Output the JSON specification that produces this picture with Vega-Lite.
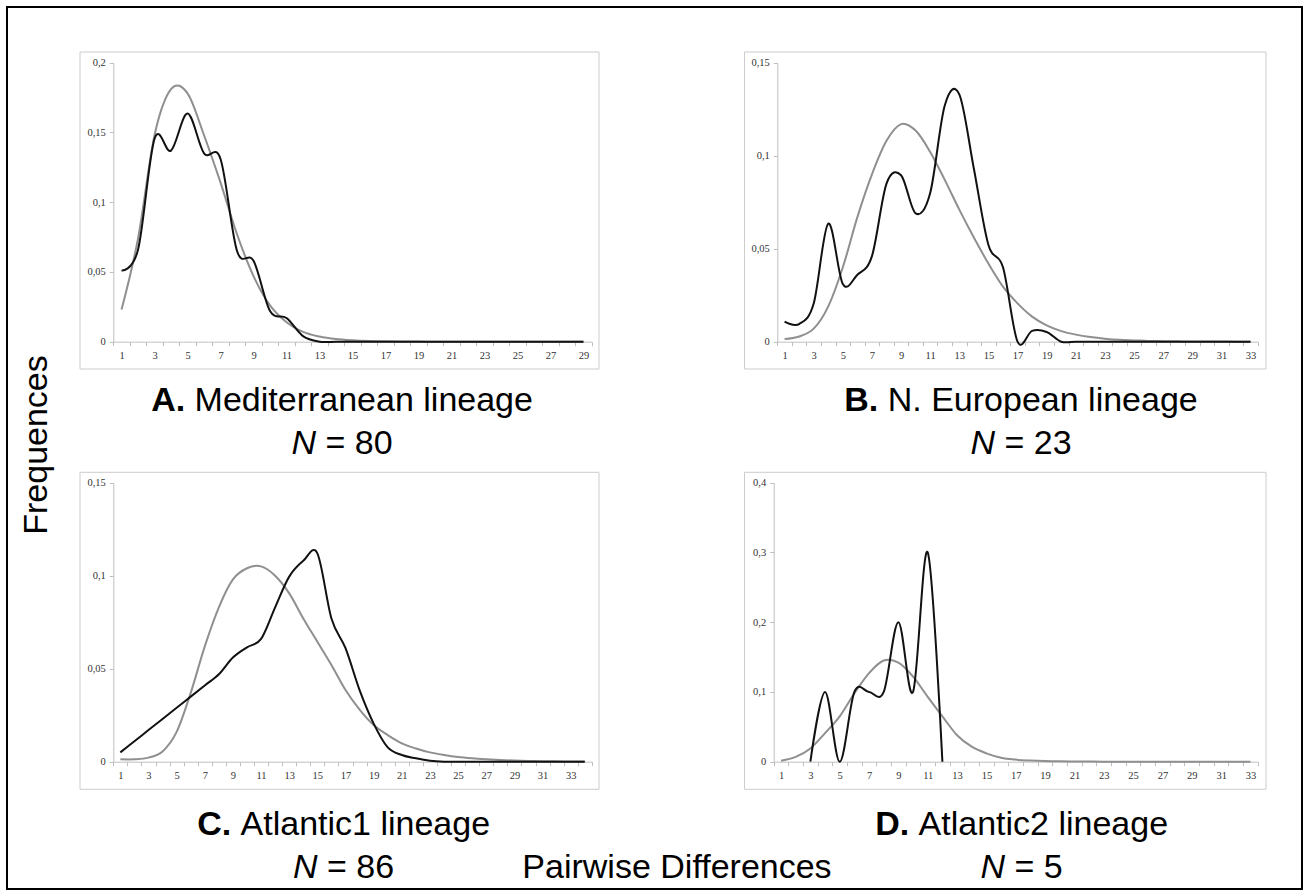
{
  "$schema": "https://vega.github.io/schema/vega-lite/v6.json",
  "width": 1295,
  "height": 882,
  "padding": 7,
  "autosize": {"type": "none"},
  "background": "white",
  "config": {
    "view": {"stroke": "#000000", "strokeWidth": 2},
    "axis": {"grid": false, "domainColor": "#bfbfbf", "tickColor": "#bfbfbf", "tickSize": 4, "labelFont": "Liberation Serif", "labelFontSize": 10.5, "labelColor": "#333333", "labelFlush": false, "labelOverlap": false, "labelPadding": 4, "labelAngle": 0}
  },
  "data": {"values": [
    {"p":"A","k":1,"obs":0.051,"exp":0.023},{"p":"A","k":2,"obs":0.066,"exp":0.074},{"p":"A","k":3,"obs":0.1455,"exp":0.148},{"p":"A","k":4,"obs":0.137,"exp":0.181},{"p":"A","k":5,"obs":0.1635,"exp":0.178},{"p":"A","k":6,"obs":0.135,"exp":0.148},{"p":"A","k":7,"obs":0.131,"exp":0.114},{"p":"A","k":8,"obs":0.065,"exp":0.077},{"p":"A","k":9,"obs":0.058,"exp":0.047},{"p":"A","k":10,"obs":0.022,"exp":0.026},{"p":"A","k":11,"obs":0.017,"exp":0.014},{"p":"A","k":12,"obs":0.004,"exp":0.007},{"p":"A","k":13,"obs":0,"exp":0.0037},{"p":"A","k":14,"obs":0,"exp":0.0019},{"p":"A","k":15,"obs":0,"exp":0.001},{"p":"A","k":16,"obs":0,"exp":0.0005},{"p":"A","k":17,"obs":0,"exp":0.0003},{"p":"A","k":18,"obs":0,"exp":0.00015},{"p":"A","k":19,"obs":0,"exp":0.0001},{"p":"A","k":20,"obs":0,"exp":0},{"p":"A","k":21,"obs":0,"exp":0},{"p":"A","k":22,"obs":0,"exp":0},{"p":"A","k":23,"obs":0,"exp":0},{"p":"A","k":24,"obs":0,"exp":0},{"p":"A","k":25,"obs":0,"exp":0},{"p":"A","k":26,"obs":0,"exp":0},{"p":"A","k":27,"obs":0,"exp":0},{"p":"A","k":28,"obs":0,"exp":0},{"p":"A","k":29,"obs":0,"exp":0},
    {"p":"B","k":1,"obs":0.0108,"exp":0.0014},{"p":"B","k":2,"obs":0.0095,"exp":0.0028},{"p":"B","k":3,"obs":0.0205,"exp":0.007},{"p":"B","k":4,"obs":0.0635,"exp":0.019},{"p":"B","k":5,"obs":0.031,"exp":0.04},{"p":"B","k":6,"obs":0.036,"exp":0.067},{"p":"B","k":7,"obs":0.046,"exp":0.09},{"p":"B","k":8,"obs":0.085,"exp":0.108},{"p":"B","k":9,"obs":0.0895,"exp":0.117},{"p":"B","k":10,"obs":0.069,"exp":0.1135},{"p":"B","k":11,"obs":0.08,"exp":0.102},{"p":"B","k":12,"obs":0.127,"exp":0.087},{"p":"B","k":13,"obs":0.133,"exp":0.071},{"p":"B","k":14,"obs":0.093,"exp":0.056},{"p":"B","k":15,"obs":0.052,"exp":0.042},{"p":"B","k":16,"obs":0.04,"exp":0.0296},{"p":"B","k":17,"obs":0,"exp":0.0206},{"p":"B","k":18,"obs":0.0058,"exp":0.0135},{"p":"B","k":19,"obs":0.0052,"exp":0.0088},{"p":"B","k":20,"obs":0,"exp":0.0057},{"p":"B","k":21,"obs":0,"exp":0.0038},{"p":"B","k":22,"obs":0,"exp":0.0025},{"p":"B","k":23,"obs":0,"exp":0.0016},{"p":"B","k":24,"obs":0,"exp":0.001},{"p":"B","k":25,"obs":0,"exp":0.0007},{"p":"B","k":26,"obs":0,"exp":0.0004},{"p":"B","k":27,"obs":0,"exp":0.0003},{"p":"B","k":28,"obs":0,"exp":0.0002},{"p":"B","k":29,"obs":0,"exp":0.0001},{"p":"B","k":30,"obs":0,"exp":0.0001},{"p":"B","k":31,"obs":0,"exp":0.0001},{"p":"B","k":32,"obs":0,"exp":0},{"p":"B","k":33,"obs":0,"exp":0},
    {"p":"C","k":1,"obs":0.005,"exp":0.0013},{"p":"C","k":2,"obs":0.011,"exp":0.0013},{"p":"C","k":3,"obs":0.017,"exp":0.0022},{"p":"C","k":4,"obs":0.023,"exp":0.0055},{"p":"C","k":5,"obs":0.029,"exp":0.016},{"p":"C","k":6,"obs":0.035,"exp":0.037},{"p":"C","k":7,"obs":0.041,"exp":0.062},{"p":"C","k":8,"obs":0.047,"exp":0.083},{"p":"C","k":9,"obs":0.056,"exp":0.098},{"p":"C","k":10,"obs":0.0615,"exp":0.104},{"p":"C","k":11,"obs":0.066,"exp":0.105},{"p":"C","k":12,"obs":0.083,"exp":0.1},{"p":"C","k":13,"obs":0.0995,"exp":0.0905},{"p":"C","k":14,"obs":0.108,"exp":0.077},{"p":"C","k":15,"obs":0.112,"exp":0.0645},{"p":"C","k":16,"obs":0.077,"exp":0.052},{"p":"C","k":17,"obs":0.061,"exp":0.0385},{"p":"C","k":18,"obs":0.0385,"exp":0.028},{"p":"C","k":19,"obs":0.0205,"exp":0.0197},{"p":"C","k":20,"obs":0.0077,"exp":0.0143},{"p":"C","k":21,"obs":0.0036,"exp":0.0099},{"p":"C","k":22,"obs":0.0018,"exp":0.0071},{"p":"C","k":23,"obs":0.0005,"exp":0.005},{"p":"C","k":24,"obs":0,"exp":0.0036},{"p":"C","k":25,"obs":0,"exp":0.0025},{"p":"C","k":26,"obs":0,"exp":0.0018},{"p":"C","k":27,"obs":0,"exp":0.0013},{"p":"C","k":28,"obs":0,"exp":0.0009},{"p":"C","k":29,"obs":0,"exp":0.0006},{"p":"C","k":30,"obs":0,"exp":0.0004},{"p":"C","k":31,"obs":0,"exp":0.0003},{"p":"C","k":32,"obs":0,"exp":0.0002},{"p":"C","k":33,"obs":0,"exp":0.0001},{"p":"C","k":34,"obs":0,"exp":0.0001},
    {"p":"D","k":1,"obs":null,"exp":0.0015},{"p":"D","k":2,"obs":null,"exp":0.007},{"p":"D","k":3,"obs":0,"exp":0.019},{"p":"D","k":4,"obs":0.1,"exp":0.041},{"p":"D","k":5,"obs":0,"exp":0.065},{"p":"D","k":6,"obs":0.1,"exp":0.098},{"p":"D","k":7,"obs":0.1,"exp":0.127},{"p":"D","k":8,"obs":0.1,"exp":0.145},{"p":"D","k":9,"obs":0.2,"exp":0.142},{"p":"D","k":10,"obs":0.1,"exp":0.122},{"p":"D","k":11,"obs":0.3,"exp":0.093},{"p":"D","k":12,"obs":0,"exp":0.065},{"p":"D","k":13,"obs":null,"exp":0.038},{"p":"D","k":14,"obs":null,"exp":0.0215},{"p":"D","k":15,"obs":null,"exp":0.012},{"p":"D","k":16,"obs":null,"exp":0.0057},{"p":"D","k":17,"obs":null,"exp":0.003},{"p":"D","k":18,"obs":null,"exp":0.0017},{"p":"D","k":19,"obs":null,"exp":0.0009},{"p":"D","k":20,"obs":null,"exp":0.0005},{"p":"D","k":21,"obs":null,"exp":0.0003},{"p":"D","k":22,"obs":null,"exp":0.0002},{"p":"D","k":23,"obs":null,"exp":0.0001},{"p":"D","k":24,"obs":null,"exp":0.0001},{"p":"D","k":25,"obs":null,"exp":0.0001},{"p":"D","k":26,"obs":null,"exp":0},{"p":"D","k":27,"obs":null,"exp":0},{"p":"D","k":28,"obs":null,"exp":0},{"p":"D","k":29,"obs":null,"exp":0},{"p":"D","k":30,"obs":null,"exp":0},{"p":"D","k":31,"obs":null,"exp":0},{"p":"D","k":32,"obs":null,"exp":0},{"p":"D","k":33,"obs":null,"exp":0}
  ]},
  "resolve": {"scale": {"x": "independent", "y": "independent"}, "axis": {"x": "independent", "y": "independent"}},
  "layer": [
    {"data": {"values": [{"f": "A"}]}, "mark": {"type": "rect", "filled": false, "stroke": "#cccccc", "strokeWidth": 1},
     "encoding": {"x": {"datum": -1.5186, "type": "quantitative", "scale": {"domain": [0.5, 29.5], "range": [106.3, 584.7], "nice": false, "zero": false}, "axis": null}, "x2": {"datum": 29.942},
                  "y": {"datum": 0.20767, "type": "quantitative", "scale": {"domain": [0, 0.2], "range": [334.7, 55.7], "nice": false, "zero": false}, "axis": null}, "y2": {"datum": -0.01957}}},
    {"data": {"values": [{"f": "B"}]}, "mark": {"type": "rect", "filled": false, "stroke": "#cccccc", "strokeWidth": 1},
     "encoding": {"x": {"datum": -1.7526, "type": "quantitative", "scale": {"domain": [0.5, 33.5], "range": [770.3, 1250.8], "nice": false, "zero": false}, "axis": null}, "x2": {"datum": 34.062},
                  "y": {"datum": 0.15575, "type": "quantitative", "scale": {"domain": [0, 0.15], "range": [334.7, 55.7], "nice": false, "zero": false}, "axis": null}, "y2": {"datum": -0.014677}}},
    {"data": {"values": [{"f": "C"}]}, "mark": {"type": "rect", "filled": false, "stroke": "#cccccc", "strokeWidth": 1},
     "encoding": {"x": {"datum": -1.866, "type": "quantitative", "scale": {"domain": [0.5, 34.5], "range": [106.3, 584.8], "nice": false, "zero": false}, "axis": null}, "x2": {"datum": 35.011},
                  "y": {"datum": 0.15559, "type": "quantitative", "scale": {"domain": [0, 0.15], "range": [754.7, 475.7], "nice": false, "zero": false}, "axis": null}, "y2": {"datum": -0.014839}}},
    {"data": {"values": [{"f": "D"}]}, "mark": {"type": "rect", "filled": false, "stroke": "#cccccc", "strokeWidth": 1},
     "encoding": {"x": {"datum": -1.4905, "type": "quantitative", "scale": {"domain": [0.5, 33.5], "range": [766.7, 1250.8], "nice": false, "zero": false}, "axis": null}, "x2": {"datum": 34.059},
                  "y": {"datum": 0.41491, "type": "quantitative", "scale": {"domain": [0, 0.4], "range": [754.7, 475.7], "nice": false, "zero": false}, "axis": null}, "y2": {"datum": -0.03957}}},

    {"transform": [{"filter": {"field": "p", "equal": "A"}}], "mark": {"type": "line", "interpolate": "cardinal", "color": "#8f8f8f", "strokeWidth": 2},
     "encoding": {"x": {"field": "k", "type": "quantitative", "scale": {"domain": [0.5, 29.5], "range": [106.3, 584.7], "nice": false, "zero": false},
                        "axis": {"orient": "bottom", "offset": -547.3, "title": null, "values": [0.5,1.5,2.5,3.5,4.5,5.5,6.5,7.5,8.5,9.5,10.5,11.5,12.5,13.5,14.5,15.5,16.5,17.5,18.5,19.5,20.5,21.5,22.5,23.5,24.5,25.5,26.5,27.5,28.5,29.5], "labelExpr": "(datum.value + 0.5) % 2 == 1 ? '' + (datum.value + 0.5) : ''", "labelOffset": 8.25, "labelPadding": 5}},
                  "y": {"field": "exp", "type": "quantitative", "scale": {"domain": [0, 0.2], "range": [334.7, 55.7], "nice": false, "zero": false},
                        "axis": {"orient": "left", "offset": -106.3, "title": null, "values": [0, 0.05, 0.1, 0.15, 0.2], "labelExpr": "replace(toString(datum.value), '.', ',')"}}}},
    {"transform": [{"filter": {"field": "p", "equal": "A"}}], "mark": {"type": "line", "interpolate": "cardinal", "color": "#111111", "strokeWidth": 2},
     "encoding": {"x": {"field": "k", "type": "quantitative", "scale": {"domain": [0.5, 29.5], "range": [106.3, 584.7], "nice": false, "zero": false}, "axis": null},
                  "y": {"field": "obs", "type": "quantitative", "scale": {"domain": [0, 0.2], "range": [334.7, 55.7], "nice": false, "zero": false}, "axis": null}}},

    {"transform": [{"filter": {"field": "p", "equal": "B"}}], "mark": {"type": "line", "interpolate": "cardinal", "color": "#8f8f8f", "strokeWidth": 2},
     "encoding": {"x": {"field": "k", "type": "quantitative", "scale": {"domain": [0.5, 33.5], "range": [770.3, 1250.8], "nice": false, "zero": false},
                        "axis": {"orient": "bottom", "offset": -547.3, "title": null, "values": [0.5,1.5,2.5,3.5,4.5,5.5,6.5,7.5,8.5,9.5,10.5,11.5,12.5,13.5,14.5,15.5,16.5,17.5,18.5,19.5,20.5,21.5,22.5,23.5,24.5,25.5,26.5,27.5,28.5,29.5,30.5,31.5,32.5,33.5], "labelExpr": "(datum.value + 0.5) % 2 == 1 ? '' + (datum.value + 0.5) : ''", "labelOffset": 7.28, "labelPadding": 5}},
                  "y": {"field": "exp", "type": "quantitative", "scale": {"domain": [0, 0.15], "range": [334.7, 55.7], "nice": false, "zero": false},
                        "axis": {"orient": "left", "offset": -770.3, "title": null, "values": [0, 0.05, 0.1, 0.15], "labelExpr": "replace(toString(datum.value), '.', ',')"}}}},
    {"transform": [{"filter": {"field": "p", "equal": "B"}}], "mark": {"type": "line", "interpolate": "cardinal", "color": "#111111", "strokeWidth": 2},
     "encoding": {"x": {"field": "k", "type": "quantitative", "scale": {"domain": [0.5, 33.5], "range": [770.3, 1250.8], "nice": false, "zero": false}, "axis": null},
                  "y": {"field": "obs", "type": "quantitative", "scale": {"domain": [0, 0.15], "range": [334.7, 55.7], "nice": false, "zero": false}, "axis": null}}},

    {"transform": [{"filter": {"field": "p", "equal": "C"}}], "mark": {"type": "line", "interpolate": "cardinal", "color": "#8f8f8f", "strokeWidth": 2},
     "encoding": {"x": {"field": "k", "type": "quantitative", "scale": {"domain": [0.5, 34.5], "range": [106.3, 584.8], "nice": false, "zero": false},
                        "axis": {"orient": "bottom", "offset": -127.3, "title": null, "values": [0.5,1.5,2.5,3.5,4.5,5.5,6.5,7.5,8.5,9.5,10.5,11.5,12.5,13.5,14.5,15.5,16.5,17.5,18.5,19.5,20.5,21.5,22.5,23.5,24.5,25.5,26.5,27.5,28.5,29.5,30.5,31.5,32.5,33.5,34.5], "labelExpr": "(datum.value + 0.5) % 2 == 1 && datum.value < 34 ? '' + (datum.value + 0.5) : ''", "labelOffset": 7.04, "labelPadding": 5}},
                  "y": {"field": "exp", "type": "quantitative", "scale": {"domain": [0, 0.15], "range": [754.7, 475.7], "nice": false, "zero": false},
                        "axis": {"orient": "left", "offset": -106.3, "title": null, "values": [0, 0.05, 0.1, 0.15], "labelExpr": "replace(toString(datum.value), '.', ',')"}}}},
    {"transform": [{"filter": {"field": "p", "equal": "C"}}], "mark": {"type": "line", "interpolate": "cardinal", "color": "#111111", "strokeWidth": 2},
     "encoding": {"x": {"field": "k", "type": "quantitative", "scale": {"domain": [0.5, 34.5], "range": [106.3, 584.8], "nice": false, "zero": false}, "axis": null},
                  "y": {"field": "obs", "type": "quantitative", "scale": {"domain": [0, 0.15], "range": [754.7, 475.7], "nice": false, "zero": false}, "axis": null}}},

    {"transform": [{"filter": {"field": "p", "equal": "D"}}], "mark": {"type": "line", "interpolate": "cardinal", "color": "#8f8f8f", "strokeWidth": 2},
     "encoding": {"x": {"field": "k", "type": "quantitative", "scale": {"domain": [0.5, 33.5], "range": [766.7, 1250.8], "nice": false, "zero": false},
                        "axis": {"orient": "bottom", "offset": -127.3, "title": null, "values": [0.5,1.5,2.5,3.5,4.5,5.5,6.5,7.5,8.5,9.5,10.5,11.5,12.5,13.5,14.5,15.5,16.5,17.5,18.5,19.5,20.5,21.5,22.5,23.5,24.5,25.5,26.5,27.5,28.5,29.5,30.5,31.5,32.5,33.5], "labelExpr": "(datum.value + 0.5) % 2 == 1 ? '' + (datum.value + 0.5) : ''", "labelOffset": 7.335, "labelPadding": 5}},
                  "y": {"field": "exp", "type": "quantitative", "scale": {"domain": [0, 0.4], "range": [754.7, 475.7], "nice": false, "zero": false},
                        "axis": {"orient": "left", "offset": -766.7, "title": null, "values": [0, 0.1, 0.2, 0.3, 0.4], "labelExpr": "replace(toString(datum.value), '.', ',')"}}}},
    {"transform": [{"filter": {"field": "p", "equal": "D"}}], "mark": {"type": "line", "interpolate": "cardinal", "color": "#111111", "strokeWidth": 2},
     "encoding": {"x": {"field": "k", "type": "quantitative", "scale": {"domain": [0.5, 33.5], "range": [766.7, 1250.8], "nice": false, "zero": false}, "axis": null},
                  "y": {"field": "obs", "type": "quantitative", "scale": {"domain": [0, 0.4], "range": [754.7, 475.7], "nice": false, "zero": false}, "axis": null}}},

    {"data": {"values": [{"t": "A."}]}, "mark": {"type": "text", "font": "Liberation Sans", "fontSize": 34, "fontWeight": "bold", "align": "left", "baseline": "alphabetic", "dx": -190.85, "color": "#000000"},
     "encoding": {"x": {"datum": 14.363, "type": "quantitative", "scale": {"domain": [0.5, 29.5], "range": [106.3, 584.7], "nice": false, "zero": false}, "axis": null},
                  "y": {"datum": -0.04968, "type": "quantitative", "scale": {"domain": [0, 0.2], "range": [334.7, 55.7], "nice": false, "zero": false}, "axis": null}, "text": {"field": "t"}}},
    {"data": {"values": [{"t": "Mediterranean lineage"}]}, "mark": {"type": "text", "font": "Liberation Sans", "fontSize": 34, "align": "left", "baseline": "alphabetic", "dx": -147.4, "color": "#000000"},
     "encoding": {"x": {"datum": 14.363, "type": "quantitative", "scale": {"domain": [0.5, 29.5], "range": [106.3, 584.7], "nice": false, "zero": false}, "axis": null},
                  "y": {"datum": -0.04968, "type": "quantitative", "scale": {"domain": [0, 0.2], "range": [334.7, 55.7], "nice": false, "zero": false}, "axis": null}, "text": {"field": "t"}}},
    {"data": {"values": [{"t": "N"}]}, "mark": {"type": "text", "font": "Liberation Sans", "fontSize": 34, "fontStyle": "italic", "align": "left", "baseline": "alphabetic", "dx": -50.55, "color": "#000000"},
     "encoding": {"x": {"datum": 14.363, "type": "quantitative", "scale": {"domain": [0.5, 29.5], "range": [106.3, 584.7], "nice": false, "zero": false}, "axis": null},
                  "y": {"datum": -0.0805, "type": "quantitative", "scale": {"domain": [0, 0.2], "range": [334.7, 55.7], "nice": false, "zero": false}, "axis": null}, "text": {"field": "t"}}},
    {"data": {"values": [{"t": "= 80"}]}, "mark": {"type": "text", "font": "Liberation Sans", "fontSize": 34, "align": "left", "baseline": "alphabetic", "dx": -16.55, "color": "#000000"},
     "encoding": {"x": {"datum": 14.363, "type": "quantitative", "scale": {"domain": [0.5, 29.5], "range": [106.3, 584.7], "nice": false, "zero": false}, "axis": null},
                  "y": {"datum": -0.0805, "type": "quantitative", "scale": {"domain": [0, 0.2], "range": [334.7, 55.7], "nice": false, "zero": false}, "axis": null}, "text": {"field": "t"}}},

    {"data": {"values": [{"t": "B."}]}, "mark": {"type": "text", "font": "Liberation Sans", "fontSize": 34, "fontWeight": "bold", "align": "left", "baseline": "alphabetic", "dx": -176.7, "color": "#000000"},
     "encoding": {"x": {"datum": 17.237, "type": "quantitative", "scale": {"domain": [0.5, 33.5], "range": [770.3, 1250.8], "nice": false, "zero": false}, "axis": null},
                  "y": {"datum": -0.03726, "type": "quantitative", "scale": {"domain": [0, 0.15], "range": [334.7, 55.7], "nice": false, "zero": false}, "axis": null}, "text": {"field": "t"}}},
    {"data": {"values": [{"t": "N. European lineage"}]}, "mark": {"type": "text", "font": "Liberation Sans", "fontSize": 34, "align": "left", "baseline": "alphabetic", "dx": -133.25, "color": "#000000"},
     "encoding": {"x": {"datum": 17.237, "type": "quantitative", "scale": {"domain": [0.5, 33.5], "range": [770.3, 1250.8], "nice": false, "zero": false}, "axis": null},
                  "y": {"datum": -0.03726, "type": "quantitative", "scale": {"domain": [0, 0.15], "range": [334.7, 55.7], "nice": false, "zero": false}, "axis": null}, "text": {"field": "t"}}},
    {"data": {"values": [{"t": "N"}]}, "mark": {"type": "text", "font": "Liberation Sans", "fontSize": 34, "fontStyle": "italic", "align": "left", "baseline": "alphabetic", "dx": -50.55, "color": "#000000"},
     "encoding": {"x": {"datum": 17.237, "type": "quantitative", "scale": {"domain": [0.5, 33.5], "range": [770.3, 1250.8], "nice": false, "zero": false}, "axis": null},
                  "y": {"datum": -0.06038, "type": "quantitative", "scale": {"domain": [0, 0.15], "range": [334.7, 55.7], "nice": false, "zero": false}, "axis": null}, "text": {"field": "t"}}},
    {"data": {"values": [{"t": "= 23"}]}, "mark": {"type": "text", "font": "Liberation Sans", "fontSize": 34, "align": "left", "baseline": "alphabetic", "dx": -16.55, "color": "#000000"},
     "encoding": {"x": {"datum": 17.237, "type": "quantitative", "scale": {"domain": [0.5, 33.5], "range": [770.3, 1250.8], "nice": false, "zero": false}, "axis": null},
                  "y": {"datum": -0.06038, "type": "quantitative", "scale": {"domain": [0, 0.15], "range": [334.7, 55.7], "nice": false, "zero": false}, "axis": null}, "text": {"field": "t"}}},

    {"data": {"values": [{"t": "C."}]}, "mark": {"type": "text", "font": "Liberation Sans", "fontSize": 34, "fontWeight": "bold", "align": "left", "baseline": "alphabetic", "dx": -146.45, "color": "#000000"},
     "encoding": {"x": {"datum": 16.863, "type": "quantitative", "scale": {"domain": [0.5, 34.5], "range": [106.3, 584.8], "nice": false, "zero": false}, "axis": null},
                  "y": {"datum": -0.03941, "type": "quantitative", "scale": {"domain": [0, 0.15], "range": [754.7, 475.7], "nice": false, "zero": false}, "axis": null}, "text": {"field": "t"}}},
    {"data": {"values": [{"t": "Atlantic1 lineage"}]}, "mark": {"type": "text", "font": "Liberation Sans", "fontSize": 34, "align": "left", "baseline": "alphabetic", "dx": -103.0, "color": "#000000"},
     "encoding": {"x": {"datum": 16.863, "type": "quantitative", "scale": {"domain": [0.5, 34.5], "range": [106.3, 584.8], "nice": false, "zero": false}, "axis": null},
                  "y": {"datum": -0.03941, "type": "quantitative", "scale": {"domain": [0, 0.15], "range": [754.7, 475.7], "nice": false, "zero": false}, "axis": null}, "text": {"field": "t"}}},
    {"data": {"values": [{"t": "N"}]}, "mark": {"type": "text", "font": "Liberation Sans", "fontSize": 34, "fontStyle": "italic", "align": "left", "baseline": "alphabetic", "dx": -50.55, "color": "#000000"},
     "encoding": {"x": {"datum": 16.863, "type": "quantitative", "scale": {"domain": [0.5, 34.5], "range": [106.3, 584.8], "nice": false, "zero": false}, "axis": null},
                  "y": {"datum": -0.06253, "type": "quantitative", "scale": {"domain": [0, 0.15], "range": [754.7, 475.7], "nice": false, "zero": false}, "axis": null}, "text": {"field": "t"}}},
    {"data": {"values": [{"t": "= 86"}]}, "mark": {"type": "text", "font": "Liberation Sans", "fontSize": 34, "align": "left", "baseline": "alphabetic", "dx": -16.55, "color": "#000000"},
     "encoding": {"x": {"datum": 16.863, "type": "quantitative", "scale": {"domain": [0.5, 34.5], "range": [106.3, 584.8], "nice": false, "zero": false}, "axis": null},
                  "y": {"datum": -0.06253, "type": "quantitative", "scale": {"domain": [0, 0.15], "range": [754.7, 475.7], "nice": false, "zero": false}, "axis": null}, "text": {"field": "t"}}},

    {"data": {"values": [{"t": "D."}]}, "mark": {"type": "text", "font": "Liberation Sans", "fontSize": 34, "fontWeight": "bold", "align": "left", "baseline": "alphabetic", "dx": -146.45, "color": "#000000"},
     "encoding": {"x": {"datum": 17.398, "type": "quantitative", "scale": {"domain": [0.5, 33.5], "range": [766.7, 1250.8], "nice": false, "zero": false}, "axis": null},
                  "y": {"datum": -0.10509, "type": "quantitative", "scale": {"domain": [0, 0.4], "range": [754.7, 475.7], "nice": false, "zero": false}, "axis": null}, "text": {"field": "t"}}},
    {"data": {"values": [{"t": "Atlantic2 lineage"}]}, "mark": {"type": "text", "font": "Liberation Sans", "fontSize": 34, "align": "left", "baseline": "alphabetic", "dx": -103.0, "color": "#000000"},
     "encoding": {"x": {"datum": 17.398, "type": "quantitative", "scale": {"domain": [0.5, 33.5], "range": [766.7, 1250.8], "nice": false, "zero": false}, "axis": null},
                  "y": {"datum": -0.10509, "type": "quantitative", "scale": {"domain": [0, 0.4], "range": [754.7, 475.7], "nice": false, "zero": false}, "axis": null}, "text": {"field": "t"}}},
    {"data": {"values": [{"t": "N"}]}, "mark": {"type": "text", "font": "Liberation Sans", "fontSize": 34, "fontStyle": "italic", "align": "left", "baseline": "alphabetic", "dx": -41.1, "color": "#000000"},
     "encoding": {"x": {"datum": 17.398, "type": "quantitative", "scale": {"domain": [0.5, 33.5], "range": [766.7, 1250.8], "nice": false, "zero": false}, "axis": null},
                  "y": {"datum": -0.16674, "type": "quantitative", "scale": {"domain": [0, 0.4], "range": [754.7, 475.7], "nice": false, "zero": false}, "axis": null}, "text": {"field": "t"}}},
    {"data": {"values": [{"t": "= 5"}]}, "mark": {"type": "text", "font": "Liberation Sans", "fontSize": 34, "align": "left", "baseline": "alphabetic", "dx": -7.1, "color": "#000000"},
     "encoding": {"x": {"datum": 17.398, "type": "quantitative", "scale": {"domain": [0.5, 33.5], "range": [766.7, 1250.8], "nice": false, "zero": false}, "axis": null},
                  "y": {"datum": -0.16674, "type": "quantitative", "scale": {"domain": [0, 0.4], "range": [754.7, 475.7], "nice": false, "zero": false}, "axis": null}, "text": {"field": "t"}}},

    {"data": {"values": [{"t": "Pairwise Differences"}]}, "mark": {"type": "text", "font": "Liberation Sans", "fontSize": 34, "align": "center", "baseline": "alphabetic", "color": "#000000"},
     "encoding": {"x": {"datum": 40.553, "type": "quantitative", "scale": {"domain": [0.5, 34.5], "range": [106.3, 584.8], "nice": false, "zero": false}, "axis": null},
                  "y": {"datum": -0.06253, "type": "quantitative", "scale": {"domain": [0, 0.15], "range": [754.7, 475.7], "nice": false, "zero": false}, "axis": null}, "text": {"field": "t"}}},
    {"data": {"values": [{"t": "Frequences"}]}, "mark": {"type": "text", "font": "Liberation Sans", "fontSize": 34, "align": "center", "baseline": "alphabetic", "angle": 270, "color": "#000000"},
     "encoding": {"x": {"datum": -3.537, "type": "quantitative", "scale": {"domain": [0.5, 29.5], "range": [106.3, 584.7], "nice": false, "zero": false}, "axis": null},
                  "y": {"datum": -0.07405, "type": "quantitative", "scale": {"domain": [0, 0.2], "range": [334.7, 55.7], "nice": false, "zero": false}, "axis": null}, "text": {"field": "t"}}}
  ]
}
